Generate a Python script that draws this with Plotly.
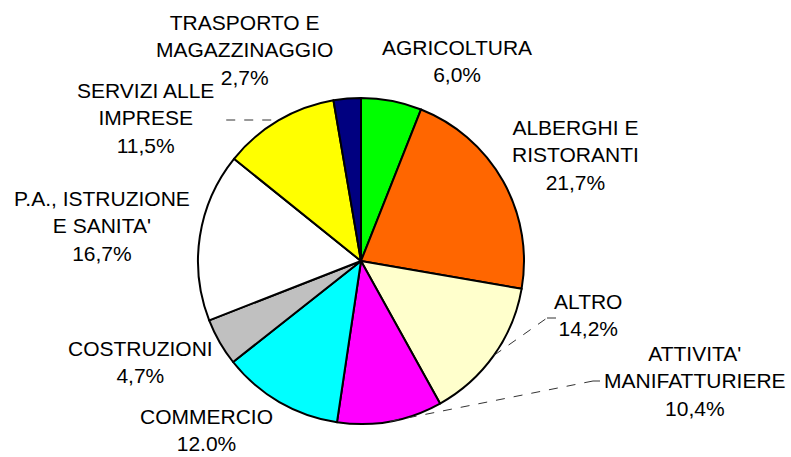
import math
import plotly.graph_objects as go

# ---- data ----
categories = ["AGRICOLTURA", "ALBERGHI E RISTORANTI", "ALTRO", "ATTIVITA' MANIFATTURIERE",
              "COMMERCIO", "COSTRUZIONI", "P.A., ISTRUZIONE E SANITA'",
              "SERVIZI ALLE IMPRESE", "TRASPORTO E MAGAZZINAGGIO"]
values = [6.0, 21.7, 14.2, 10.4, 12.0, 4.7, 16.7, 11.5, 2.7]
label_texts = ["AGRICOLTURA<br>6,0%", "ALBERGHI E<br>RISTORANTI<br>21,7%", "ALTRO<br>14,2%",
               "ATTIVITA'<br>MANIFATTURIERE<br>10,4%", "COMMERCIO<br>12.0%", "COSTRUZIONI<br>4,7%",
               "P.A., ISTRUZIONE<br>E SANITA'<br>16,7%", "SERVIZI ALLE<br>IMPRESE<br>11,5%",
               "TRASPORTO E<br>MAGAZZINAGGIO<br>2,7%"]
colors = ["#00FF00", "#FF6600", "#FFFFCC", "#FF00FF", "#00FFFF", "#C0C0C0",
          "#FFFFFF", "#FFFF00", "#000080"]

# ---- layout (pixels) ----
W, H = 791, 457
CX, CY, R = 361, 261, 163
label_pos = [(457, 61), (575, 155), (588, 315), (695, 381), (206, 430),
             (140, 362), (102, 226), (145, 118), (245, 50)]
# leader lines: index -> list of knee points (pixels), starting from slice edge
leaders = {2: [(547, 318), (556, 318)], 3: [(593, 381), (600, 381)], 7: [(220, 120)]}

def px(x):
    return x / W

def py(y):
    return 1 - y / H

fig = go.Figure(go.Pie(
    labels=categories, values=values, sort=False, direction="clockwise", rotation=0,
    marker=dict(colors=colors, line=dict(color="black", width=2)),
    textinfo="none", hoverinfo="label+percent", showlegend=False,
    domain=dict(x=[px(CX - R), px(CX + R)], y=[py(CY + R), py(CY - R)]),
))

for txt, (lx, ly) in zip(label_texts, label_pos):
    fig.add_annotation(x=px(lx), y=py(ly), xref="paper", yref="paper", text=txt,
                       showarrow=False, xanchor="center", yanchor="middle", align="center",
                       font=dict(family="Liberation Sans, Arial, sans-serif", size=21, color="black"))

total = sum(values)
cum = 0
mids = []
for v in values:
    mids.append((cum + v / 2) / total * 2 * math.pi)
    cum += v

for i, pts in leaders.items():
    a = mids[i]
    sx, sy = CX + R * math.sin(a), CY - R * math.cos(a)
    if i == 7:
        sy = pts[0][1]
        sx = CX - math.sqrt(R * R - (sy - CY) ** 2) - 8
    path = [(sx, sy)] + pts
    for (x0, y0), (x1, y1) in zip(path[:-1], path[1:]):
        fig.add_shape(type="line", xref="paper", yref="paper",
                      x0=px(x0), y0=py(y0), x1=px(x1), y1=py(y1),
                      line=dict(color="#333333", width=1, dash="dash"))

fig.update_layout(width=W, height=H, margin=dict(l=0, r=0, t=0, b=0),
                  paper_bgcolor="white", plot_bgcolor="white")
fig.write_html("out.html", config={"displayModeBar": False},
               post_script="document.body.style.margin='0';document.body.style.overflow='hidden';")
